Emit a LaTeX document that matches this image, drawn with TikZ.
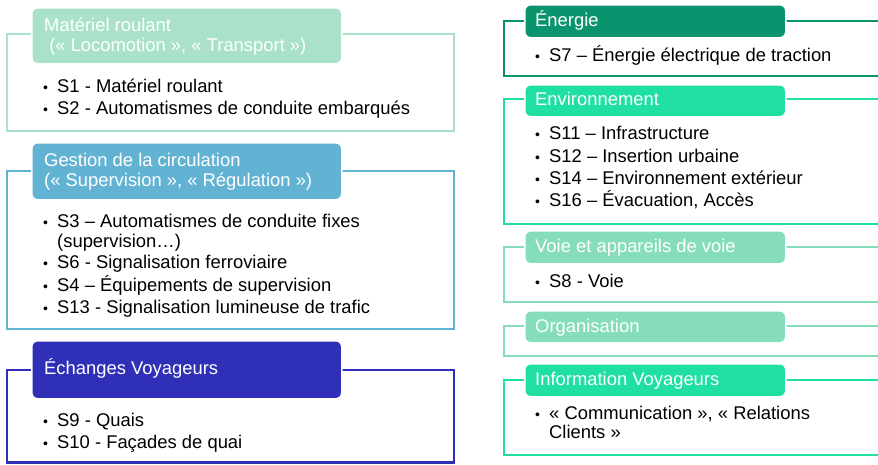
\documentclass[tikz,border=0pt]{standalone}
\usepackage{fontspec}
\setmainfont{Liberation Sans}
\definecolor{cmint}{HTML}{A9E2C9}
\definecolor{cblue}{HTML}{62B3D3}
\definecolor{cindigo}{HTML}{2F2FB8}
\definecolor{cgreen}{HTML}{0A946E}
\definecolor{cenv}{HTML}{1FE0A2}
\definecolor{cvoie}{HTML}{86DDBA}
\begin{document}
\begin{tikzpicture}[x=1pt,y=-1pt,
  frame/.style={line width=2.2pt},
  hdr/.style={rounded corners=6pt, draw=white, line width=1.5pt, anchor=north west, inner sep=0pt},
  txt/.style={anchor=base west, inner sep=0pt, font=\fontsize{18.4}{21}\selectfont},
  ttl/.style={txt, text=white},
  bul/.style={anchor=base west, inner sep=0pt, font=\fontsize{14}{21}\selectfont}]
\useasboundingbox (0,0) rectangle (878,464);
\clip (0,0) rectangle (878,464);
\fill[white] (0,0) rectangle (878,464);
% ---------- left panels ----------
\draw[frame, draw=cmint] (7,34) rectangle (454,131);
\node[hdr, fill=cmint, minimum width=310pt, minimum height=56pt] (h1) at (31,7) {};
\node[ttl] (h1a) at (44,31) {Matériel roulant};
\node[ttl] (h1b) at (44,51) {\ (« Locomotion », « Transport »)};
\node[bul] (b1a) at (43,92) {•}; \node[txt] (t1a) at (57,92) {S1 - Matériel roulant};
\node[bul] (b1b) at (43,114) {•}; \node[txt] (t1b) at (57,114) {S2 - Automatismes de conduite embarqués};

\draw[frame, draw=cblue] (7,171) rectangle (454,329);
\node[hdr, fill=cblue, minimum width=310pt, minimum height=57pt] (h2) at (31,142) {};
\node[ttl] (h2a) at (44,166) {Gestion de la circulation};
\node[ttl] (h2b) at (44,186) {(« Supervision », « Régulation »)};
\node[bul] (b2a) at (43,227) {•}; \node[txt] (t2a) at (57,227) {S3 – Automatismes de conduite fixes};
\node[txt] (t2b) at (57,247) {(supervision…)};
\node[bul] (b2c) at (43,268) {•}; \node[txt] (t2c) at (57,268) {S6 - Signalisation ferroviaire};
\node[bul] (b2d) at (43,291) {•}; \node[txt] (t2d) at (57,291) {S4 – Équipements de supervision};
\node[bul] (b2e) at (43,313) {•}; \node[txt] (t2e) at (57,313) {S13 - Signalisation lumineuse de trafic};

\draw[frame, draw=cindigo] (7,370) rectangle (454,462.5);
\node[hdr, fill=cindigo, minimum width=310pt, minimum height=58pt] (h3) at (31,340) {};
\node[ttl] (h3a) at (44,374) {Échanges Voyageurs};
\node[bul] (b3a) at (43,426) {•}; \node[txt] (t3a) at (57,426) {S9 - Quais};
\node[bul] (b3b) at (43,448) {•}; \node[txt] (t3b) at (57,448) {S10 - Façades de quai};

% ---------- right panels ----------
\draw[frame, draw=cgreen] (504,21) rectangle (900,76);
\node[hdr, fill=cgreen, minimum width=261pt, minimum height=33pt] (h4) at (524,4) {};
\node[ttl] (h4a) at (535,26) {Énergie};
\node[bul] (b4a) at (535,61) {•}; \node[txt] (t4a) at (549,61) {S7 – Énergie électrique de traction};

\draw[frame, draw=cenv] (504,99) rectangle (900,224);
\node[hdr, fill=cenv, minimum width=261pt, minimum height=32pt] (h5) at (524,84) {};
\node[ttl] (h5a) at (535,105) {Environnement};
\node[bul] (b5a) at (535,139) {•}; \node[txt] (t5a) at (549,139) {S11 – Infrastructure};
\node[bul] (b5b) at (535,162) {•}; \node[txt] (t5b) at (549,162) {S12 – Insertion urbaine};
\node[bul] (b5c) at (535,184) {•}; \node[txt] (t5c) at (549,184) {S14 – Environnement extérieur};
\node[bul] (b5d) at (535,206) {•}; \node[txt] (t5d) at (549,206) {S16 – Évacuation, Accès};

\draw[frame, draw=cvoie] (504,247) rectangle (900,302);
\node[hdr, fill=cvoie, minimum width=261pt, minimum height=33pt] (h6) at (524,230) {};
\node[ttl] (h6a) at (535,252) {Voie et appareils de voie};
\node[bul] (b6a) at (535,287) {•}; \node[txt] (t6a) at (549,287) {S8 - Voie};

\draw[frame, draw=cvoie] (504,326) rectangle (900,356);
\node[hdr, fill=cvoie, minimum width=261pt, minimum height=32pt] (h7) at (524,310) {};
\node[ttl] (h7a) at (535,332) {Organisation};

\draw[frame, draw=cenv] (504,380) rectangle (900,455);
\node[hdr, fill=cenv, minimum width=261pt, minimum height=33pt] (h8) at (524,363) {};
\node[ttl] (h8a) at (535,385) {Information Voyageurs};
\node[bul] (b8a) at (535,419) {•}; \node[txt] (t8a) at (549,419) {« Communication », « Relations};
\node[txt] (t8b) at (549,438) {Clients »};
\end{tikzpicture}
\end{document}
